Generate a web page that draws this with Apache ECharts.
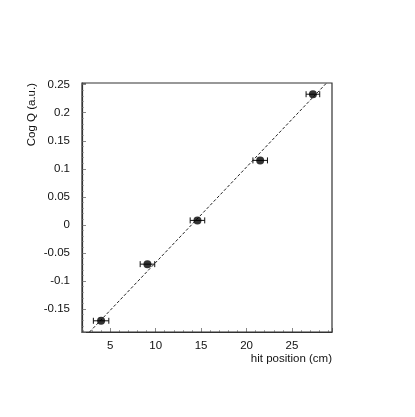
<!DOCTYPE html>
<html>
<head>
<meta charset="utf-8">
<script src="https://cdn.jsdelivr.net/npm/echarts@6/dist/echarts.min.js"></script>
<style>
html, body { margin: 0; padding: 0; background: #fff; }
#chart { width: 415px; height: 417px; }
</style>
</head>
<body>
<div id="chart"></div>
<script>
// measured points (hit position in cm, CoG Q in a.u.)
var hitPos = [4.0, 9.1, 14.6, 21.5, 27.3];
var cogQ = [-0.171, -0.070, 0.008, 0.115, 0.233];
var hitErr = [0.85, 0.8, 0.8, 0.8, 0.75];
// ends of the dashed fit line
var fitX = [2.73, 28.8];
var fitY = [-0.191, 0.253];

var pts = hitPos.map(function (x, i) { return [x, cogQ[i], hitErr[i]]; });
var fitLine = fitX.map(function (x, i) { return [x, fitY[i]]; });

var axisCol = '#333';
var font = 'Liberation Sans, Arial, sans-serif';

var chart = echarts.init(document.getElementById('chart'));
chart.setOption({
  animation: false,
  backgroundColor: '#fff',
  grid: { left: 82, right: 83, top: 83, bottom: 85 },
  xAxis: {
    type: 'value',
    min: 1.9,
    max: 29.4,
    minInterval: 5,
    maxInterval: 5,
    name: 'hit position (cm)',
    nameLocation: 'end',
    nameGap: 0,
    nameTextStyle: { color: '#111', fontSize: 11.5, fontFamily: font, align: 'right', verticalAlign: 'top', padding: [21, 0, 0, 0] },
    axisLine: { show: true, onZero: false, lineStyle: { color: axisCol, width: 1.2 } },
    axisTick: { inside: true, length: 4, lineStyle: { color: '#888' } },
    minorTick: { show: true, splitNumber: 5, length: 2, lineStyle: { color: '#aaa' } },
    splitLine: { show: false },
    axisLabel: {
      color: '#111', fontSize: 11.5, fontFamily: font, margin: 8,
      formatter: function (v) { return (Math.abs(v % 5) < 1e-6) ? String(v) : ''; }
    }
  },
  yAxis: {
    type: 'value',
    min: -0.191,
    max: 0.253,
    minInterval: 0.05,
    maxInterval: 0.05,
    name: 'Cog Q (a.u.)',
    nameLocation: 'end',
    nameRotate: 90,
    nameGap: 0,
    nameTextStyle: { color: '#111', fontSize: 11.5, fontFamily: font, align: 'right', verticalAlign: 'bottom', padding: [0, 0, 44, 0] },
    axisLine: { show: true, onZero: false, lineStyle: { color: axisCol, width: 1.2 } },
    axisTick: { inside: true, length: 4, lineStyle: { color: '#888' } },
    minorTick: { show: true, splitNumber: 5, length: 2, lineStyle: { color: '#aaa' } },
    splitLine: { show: false },
    axisLabel: {
      color: '#111', fontSize: 11.5, fontFamily: font, margin: 12,
      formatter: function (v) {
        var r = Math.round(v * 100) / 100;
        if (Math.abs(r * 20 - Math.round(r * 20)) > 1e-6 || Math.abs(v - r) > 1e-6) return '';
        return String(r);
      }
    }
  },
  graphic: [{
    type: 'rect',
    shape: { x: 82, y: 83, width: 250, height: 249 },
    style: { fill: 'none', stroke: axisCol, lineWidth: 1.2 },
    silent: true,
    z: 1
  }],
  series: [
    {
      type: 'line',
      data: fitLine,
      symbol: 'none',
      lineStyle: { color: '#222', width: 1, type: [3, 2] },
      z: 2
    },
    {
      type: 'custom',
      data: pts,
      renderItem: function (params, api) {
        var x = api.value(0), y = api.value(1), e = api.value(2);
        var a = api.coord([x - e, y]);
        var b = api.coord([x + e, y]);
        var st = { stroke: '#111', lineWidth: 1 };
        return {
          type: 'group',
          children: [
            { type: 'line', shape: { x1: a[0], y1: a[1], x2: b[0], y2: b[1] }, style: st },
            { type: 'line', shape: { x1: a[0], y1: a[1] - 3, x2: a[0], y2: a[1] + 3 }, style: st },
            { type: 'line', shape: { x1: b[0], y1: b[1] - 3, x2: b[0], y2: b[1] + 3 }, style: st }
          ]
        };
      },
      z: 3
    },
    {
      type: 'scatter',
      data: pts.map(function (p) { return [p[0], p[1]]; }),
      symbol: 'circle',
      symbolSize: 8,
      itemStyle: { color: '#000' },
      z: 4
    }
  ]
});
</script>
</body>
</html>
